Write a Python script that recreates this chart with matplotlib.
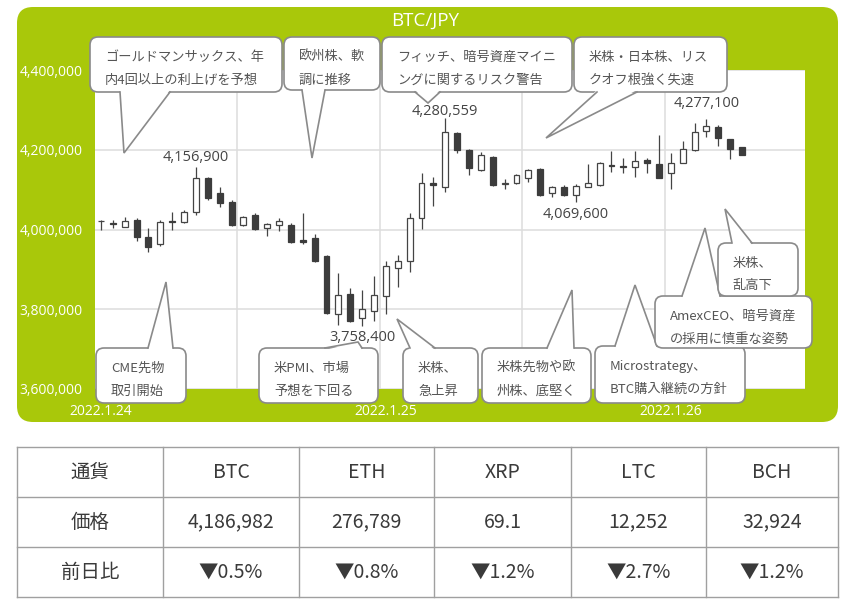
import numpy as np
import matplotlib
matplotlib.use('Agg')
import matplotlib.pyplot as plt
from matplotlib.patches import FancyBboxPatch, Polygon

plt.rcParams['font.family'] = ['Noto Sans CJK JP', 'DejaVu Sans']

# 1時間足 BTC/JPY 2022.1.24 00:00〜
opens = [4021000, 4016000, 4007500, 4025000, 3980000, 3962500, 4022000, 4020000, 4045000, 4130000,
         4092500, 4070000, 4012500, 4037500, 4005000, 4012500, 4012500, 3972500, 3977500, 3932500,
         3787500, 3837500, 3777500, 3795000, 3832500, 3902500, 3920000, 4030000, 4117500, 4107500,
         4242500, 4200000, 4150000, 4182500, 4115000, 4117500, 4130000, 4152500, 4092500, 4107500,
         4087500, 4107500, 4112500, 4162500, 4158500, 4157500, 4175000, 4165000, 4142500, 4167500,
         4200000, 4247500, 4257500, 4227500, 4207500]
highs = [4023000, 4025000, 4032500, 4030000, 4005000, 4025000, 4045000, 4050000, 4156900, 4132500,
         4107500, 4075000, 4035000, 4042500, 4017500, 4030000, 4017500, 4042500, 3987500, 3935000,
         3890000, 3852500, 3847500, 3882500, 3920000, 3935000, 4042500, 4142500, 4132500, 4280559,
         4245000, 4202500, 4195000, 4185000, 4127500, 4140000, 4152500, 4155000, 4110000, 4112500,
         4115000, 4165000, 4170000, 4197500, 4180000, 4197500, 4180000, 4237500, 4192500, 4222500,
         4267500, 4277100, 4262500, 4227500, 4207500]
lows = [3998000, 4005000, 4007500, 3970000, 3942500, 3957500, 3997500, 4017500, 4037500, 4075000,
        4057500, 4010000, 4010000, 4000000, 3982500, 3995000, 3965000, 3962500, 3917500, 3787500,
        3760000, 3767500, 3758400, 3770000, 3787500, 3855000, 3892500, 4002500, 4060000, 4095000,
        4192500, 4137500, 4147500, 4110000, 4102500, 4115000, 4120000, 4085000, 4082500, 4085000,
        4069600, 4107500, 4110000, 4145000, 4142500, 4132500, 4142500, 4130000, 4102500, 4167500,
        4197500, 4232500, 4210000, 4177500, 4187500]
closes = [4022500, 4014000, 4022500, 3980000, 3955000, 4020000, 4020000, 4045000, 4130000, 4080000,
          4067500, 4012500, 4032500, 4002500, 4015000, 4022500, 3967500, 3967500, 3920000, 3790000,
          3835000, 3770000, 3800000, 3835000, 3907500, 3920000, 4030000, 4117500, 4112500, 4245000,
          4200000, 4155000, 4187500, 4112500, 4117500, 4137500, 4150000, 4087500, 4107500, 4087500,
          4110000, 4117500, 4167500, 4160000, 4156500, 4172500, 4167500, 4130000, 4167500, 4202500,
          4245000, 4260000, 4230000, 4202500, 4187500]

date_labels = ['2022.1.24', '2022.1.25', '2022.1.26']
date_hours = [0, 24, 48]

# 注目価格 (足の番号, 価格)
mark_idx = [8, 29, 22, 40, 51]
mark_price = [4156900, 4280559, 3758400, 4069600, 4277100]
mark_dy = [6.5, 4.3, -8.2, -9.2, 11.5]  # 文字位置のずれ(pt)

currencies = ['BTC', 'ETH', 'XRP', 'LTC', 'BCH']
prices = ['4,186,982', '276,789', '69.1', '12,252', '32,924']
changes = ['▼0.5%', '▼0.8%', '▼1.2%', '▼2.7%', '▼1.2%']
row_labels = ['通貨', '価格', '前日比']

# 吹き出し: 箱(x0, y0, x1, y1), 文, 口の付け根(x0, x1, y), 先端(x, y) ※画素座標
callouts = [
    ((90, 37, 282, 92), ['ゴールドマンサックス、年', '内4回以上の利上げを予想'], (120, 170, 92), (124, 153)),
    ((284, 37, 380, 90), ['欧州株、軟', '調に推移'], (302, 325, 90), (312, 158)),
    ((382, 37, 572, 92), ['フィッチ、暗号資産マイニ', 'ングに関するリスク警告'], (415, 440, 92), (428, 103)),
    ((574, 37, 727, 92), ['米株・日本株、リス', 'クオフ根強く失速'], (597, 637, 92), (546, 138)),
    ((96, 348, 186, 403), ['CME先物', '取引開始'], (148, 173, 348), (166, 282)),
    ((259, 348, 378, 403), ['米PMI、市場', '予想を下回る'], (325, 362, 348), (358, 342)),
    ((403, 348, 478, 403), ['米株、', '急上昇'], (410, 435, 348), (397, 319)),
    ((482, 348, 591, 403), ['米株先物や欧', '州株、底堅く'], (547, 574, 348), (572, 290)),
    ((595, 346, 745, 403), ['Microstrategy、', 'BTC購入継続の方針'], (615, 657, 346), (635, 285)),
    ((655, 296, 812, 348), ['AmexCEO、暗号資産', 'の採用に慎重な姿勢'], (682, 720, 296), (705, 228)),
    ((718, 243, 798, 296), ['米株、', '乱高下'], (732, 752, 243), (725, 209)),
]

GREEN = '#a9c80a'
EDGE = '#8a8a8a'
W, H = 850, 612

fig = plt.figure(figsize=(8.5, 6.12), dpi=100)

bg = fig.add_axes([0, 0, 1, 1], zorder=0)
bg.set_xlim(0, W)
bg.set_ylim(H, 0)
bg.axis('off')
bg.add_patch(FancyBboxPatch((17, 7), 821, 415, boxstyle='round,pad=0,rounding_size=16',
                            fc=GREEN, ec='none'))
bg.text(425, 21, 'BTC/JPY', color='white', fontsize=13.5, family=['Open Sans', 'DejaVu Sans'],
        ha='center', va='center')

# ローソク足
ax = fig.add_axes([95 / W, (H - 389) / H, 710 / W, 319 / H], zorder=1)
ax.set_facecolor('white')
o = np.array(opens, dtype=float)
h = np.array(highs, dtype=float)
l = np.array(lows, dtype=float)
c = np.array(closes, dtype=float)
x = np.arange(len(o))
up = c >= o
bottom = np.minimum(o, c)
height = np.maximum(np.abs(c - o), 1500)

ax.vlines(x, l, h, color='#444444', lw=0.9, zorder=2)
ax.bar(x[up], height[up], bottom=bottom[up], width=0.5, color='white',
       edgecolor='#444444', lw=0.9, zorder=3)
ax.bar(x[~up], height[~up], bottom=bottom[~up], width=0.5, color='#3c3c3c',
       edgecolor='#3c3c3c', lw=0.9, zorder=3)

ax.set_xlim(-0.5, 59.3)
ax.set_ylim(3600000, 4400000)
yt = np.arange(3600000, 4400001, 200000)
ax.set_yticks(yt, [f'{v:,}' for v in yt])
ax.set_xticks(date_hours, date_labels)
ax.set_xticks([11.5, 23.5, 35.5, 47.5], minor=True)
ax.grid(axis='y', which='major', color='#dddddd', lw=1.1, zorder=0)
ax.grid(axis='x', which='minor', color='#dddddd', lw=1.1, zorder=0)
ax.tick_params(axis='both', which='both', length=0)
ax.tick_params(axis='y', pad=9, labelcolor='white', labelsize=10)
ax.tick_params(axis='x', pad=11, labelcolor='white', labelsize=10)
for lab in ax.get_xticklabels() + ax.get_yticklabels():
    lab.set_family(['Open Sans', 'DejaVu Sans'])
for s in ax.spines.values():
    s.set_visible(False)
ax.set_axisbelow(True)

for i, p, dy in zip(mark_idx, mark_price, mark_dy):
    ax.annotate(f'{p:,}', (i, p), xytext=(0, dy), textcoords='offset points',
                ha='center', va='center', fontsize=10.5, color='#444444',
                family=['Open Sans', 'DejaVu Sans'], zorder=5)

# 吹き出しと表
fg = fig.add_axes([0, 0, 1, 1], zorder=2)
fg.set_xlim(0, W)
fg.set_ylim(H, 0)
fg.axis('off')
fg.patch.set_alpha(0)

z = 2
for (x0, y0, x1, y1), lines, (bx0, bx1, by), tip in callouts:
    fg.add_patch(FancyBboxPatch((x0, y0), x1 - x0, y1 - y0,
                                boxstyle='round,pad=0,rounding_size=8',
                                fc='white', ec=EDGE, lw=1.2, zorder=z))
    inward = 2 if tip[1] < by else -2
    fg.add_patch(Polygon([(bx0, by + inward), tip, (bx1, by + inward)], closed=True,
                         fc='white', ec='none', zorder=z + 1))
    fg.plot([bx0, tip[0], bx1], [by, tip[1], by], color=EDGE, lw=1.2, zorder=z + 2,
            solid_joinstyle='miter')
    for k, t in enumerate(lines):
        fg.text(x0 + 15, y0 + 20.5 + 22.5 * k, t, fontsize=9.5, color='#555555',
                ha='left', va='center', zorder=z + 3)
    z += 4

col_x = [17, 163, 299, 434, 571, 706, 838]
row_y = [447, 497, 547, 597]
for yy in row_y:
    fg.plot([col_x[0], col_x[-1]], [yy, yy], color='#a0a0a0', lw=1, zorder=1)
for xx in col_x:
    fg.plot([xx, xx], [row_y[0], row_y[-1]], color='#a0a0a0', lw=1, zorder=1)

rows = [currencies, prices, changes]
for r, (name, vals) in enumerate(zip(row_labels, rows)):
    cy = (row_y[r] + row_y[r + 1]) / 2
    fg.text((col_x[0] + col_x[1]) / 2, cy, name, fontsize=14, color='#3a3a3a',
            ha='center', va='center')
    for j, v in enumerate(vals):
        cx = (col_x[j + 1] + col_x[j + 2]) / 2
        fg.text(cx, cy, v, fontsize=14, color='#3a3a3a', ha='center', va='center')

fig.savefig('out.png', dpi=100)
